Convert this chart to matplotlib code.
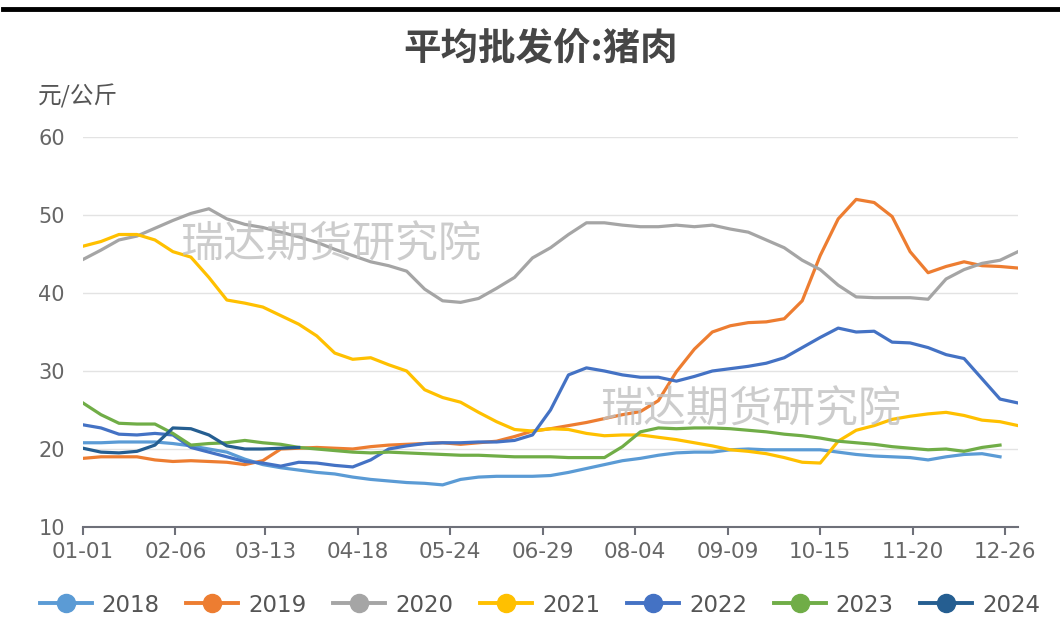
import numpy as np
import matplotlib.pyplot as plt
from matplotlib.lines import Line2D

plt.rcParams['font.family'] = ['Noto Sans CJK SC', 'DejaVu Sans']

nan = np.nan

# 每7天取一个点 (day of year)
days = np.arange(0, 365, 7)
tick_days = [0, 36, 71, 107, 143, 179, 215, 251, 287, 323, 359]
tick_labels = ['01-01', '02-06', '03-13', '04-18', '05-24', '06-29',
               '08-04', '09-09', '10-15', '11-20', '12-26']

y2018 = [20.8, 20.8, 20.9, 20.9, 20.9, 20.7, 20.4, 20.0, 19.6, 18.7,
         18.0, 17.6, 17.3, 17.0, 16.8, 16.4, 16.1, 15.9, 15.7, 15.6,
         15.4, 16.1, 16.4, 16.5, 16.5, 16.5, 16.6, 17.0, 17.5, 18.0,
         18.5, 18.8, 19.2, 19.5, 19.6, 19.6, 19.9, 20.0, 19.9, 19.9,
         19.9, 19.9, 19.6, 19.3, 19.1, 19.0, 18.9, 18.6, 19.0, 19.3,
         19.4, 19.0, nan]
y2019 = [18.8, 19.0, 19.0, 19.0, 18.6, 18.4, 18.5, 18.4, 18.3, 18.0,
         18.5, 20.0, 20.1, 20.2, 20.1, 20.0, 20.3, 20.5, 20.6, 20.7,
         20.8, 20.6, 20.8, 21.0, 21.6, 22.3, 22.6, 23.0, 23.4, 23.9,
         24.4, 24.8, 26.2, 29.9, 32.8, 35.0, 35.8, 36.2, 36.3, 36.7,
         39.0, 44.8, 49.5, 52.0, 51.6, 49.8, 45.3, 42.6, 43.4, 44.0,
         43.5, 43.4, 43.2]
y2020 = [44.3, 45.5, 46.8, 47.3, 48.3, 49.3, 50.2, 50.8, 49.5, 48.8,
         48.4, 47.8, 47.2, 46.5, 45.6, 44.8, 44.0, 43.5, 42.8, 40.5,
         39.0, 38.8, 39.3, 40.6, 42.0, 44.5, 45.8, 47.5, 49.0, 49.0,
         48.7, 48.5, 48.5, 48.7, 48.5, 48.7, 48.2, 47.8, 46.8, 45.8,
         44.2, 43.0, 41.0, 39.5, 39.4, 39.4, 39.4, 39.2, 41.8, 43.0,
         43.8, 44.2, 45.3]
y2021 = [46.0, 46.6, 47.5, 47.5, 46.8, 45.3, 44.6, 42.0, 39.1, 38.7,
         38.2, 37.1, 36.0, 34.5, 32.3, 31.5, 31.7, 30.8, 30.0, 27.6,
         26.6, 26.0, 24.7, 23.5, 22.5, 22.3, 22.6, 22.5, 22.0, 21.7,
         21.8, 21.8, 21.5, 21.2, 20.8, 20.4, 19.9, 19.7, 19.4, 18.9,
         18.3, 18.2, 21.0, 22.4, 23.0, 23.8, 24.2, 24.5, 24.7, 24.3,
         23.7, 23.5, 23.0]
y2022 = [23.1, 22.7, 21.9, 21.8, 22.0, 21.8, 20.2, 19.6, 19.0, 18.4,
         18.2, 17.8, 18.3, 18.2, 17.9, 17.7, 18.6, 20.0, 20.4, 20.7,
         20.8, 20.8, 20.9, 20.9, 21.1, 21.8, 25.0, 29.5, 30.4, 30.0,
         29.5, 29.2, 29.2, 28.7, 29.3, 30.0, 30.3, 30.6, 31.0, 31.7,
         33.0, 34.3, 35.5, 35.0, 35.1, 33.7, 33.6, 33.0, 32.1, 31.6,
         29.0, 26.4, 25.9]
y2023 = [25.9, 24.4, 23.3, 23.2, 23.2, 22.0, 20.5, 20.7, 20.8, 21.1,
         20.8, 20.6, 20.2, 20.0, 19.8, 19.6, 19.5, 19.6, 19.5, 19.4,
         19.3, 19.2, 19.2, 19.1, 19.0, 19.0, 19.0, 18.9, 18.9, 18.9,
         20.3, 22.2, 22.7, 22.6, 22.7, 22.7, 22.6, 22.4, 22.2, 21.9,
         21.7, 21.4, 21.0, 20.8, 20.6, 20.3, 20.1, 19.9, 20.0, 19.7,
         20.2, 20.5, nan]
y2024 = [20.1, 19.6, 19.5, 19.7, 20.5, 22.7, 22.6, 21.8, 20.4, 20.0,
         20.0, 20.1, 20.2] + [nan] * 40

years = ['2018', '2019', '2020', '2021', '2022', '2023', '2024']
colors = ['#5B9BD5', '#ED7D31', '#A5A5A5', '#FFC000', '#4472C4', '#70AD47', '#255E91']
series = [y2018, y2019, y2020, y2021, y2022, y2023, y2024]

W, H = 1060, 643
fig = plt.figure(figsize=(W / 100, H / 100), dpi=100)
ax = fig.add_axes([83 / W, 1 - 527 / H, (1018 - 83) / W, (527 - 137) / H])

for yr, c, s in zip(years, colors, series):
    ax.plot(days, s, color=c, lw=2.3, label=yr)

ax.set_xlim(0, 364)
ax.set_ylim(10, 60)
ax.set_yticks([10, 20, 30, 40, 50, 60])
ax.set_xticks(tick_days)
ax.set_xticklabels(tick_labels)
ax.grid(axis='y', color='#E3E3E3', lw=1)
ax.set_axisbelow(True)
for sp in ['top', 'right', 'left']:
    ax.spines[sp].set_visible(False)
ax.spines['bottom'].set_color('#6E7079')
ax.spines['bottom'].set_linewidth(1.5)
ax.tick_params(axis='y', length=0, pad=13, labelsize=15, labelcolor='#666666')
ax.tick_params(axis='x', length=6, width=1.5, color='#6E7079', pad=5,
               labelsize=15.5, labelcolor='#666666')
for lab in ax.get_xticklabels() + ax.get_yticklabels():
    lab.set_family('DejaVu Sans')

# 标题/单位
fig.text(0.51, 1 - 48 / H, '平均批发价:猪肉', ha='center', va='center',
         fontsize=27, fontweight='bold', color='#464646')
fig.text(38 / W, 1 - 96 / H, '元/公斤', ha='left', va='center',
         fontsize=17, color='#555555')

# 水印
fig.text(180 / W, 1 - 245 / H, '瑞达期货研究院', ha='left', va='center',
         fontsize=31, color='#C0C0C0', alpha=0.8)
fig.text(600 / W, 1 - 410 / H, '瑞达期货研究院', ha='left', va='center',
         fontsize=31, color='#C0C0C0', alpha=0.8)

# 顶部黑线
fig.add_artist(Line2D([0.003, 1], [1 - 8.5 / H, 1 - 8.5 / H], color='black', lw=3.5))

handles = [Line2D([], [], color=c, lw=2.8, marker='o', markersize=13) for c in colors]
fig.legend(handles, years, loc='center', bbox_to_anchor=(540 / W, 1 - 605 / H), ncol=7,
           frameon=False, handlelength=2.27, handletextpad=0.44, columnspacing=1.16,
           prop={'family': 'DejaVu Sans', 'size': 16.5}, labelcolor='#555555')

fig.savefig('out.png', dpi=100)
